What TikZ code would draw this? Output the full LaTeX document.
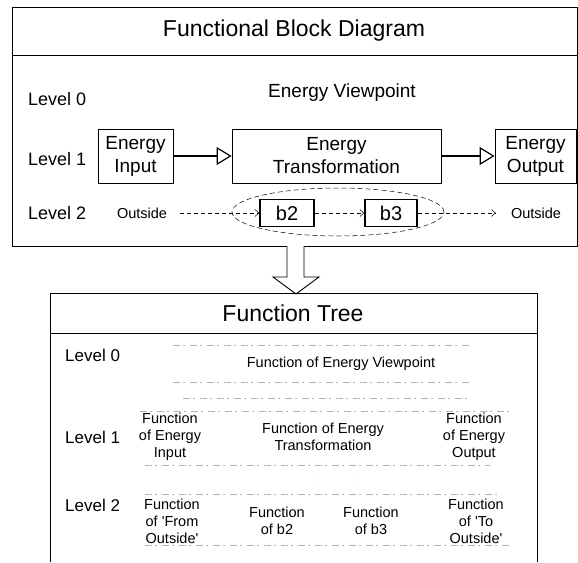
\documentclass[tikz,border=0pt]{standalone}
\usepackage{fontspec}
\setmainfont{Liberation Sans}
\usetikzlibrary{arrows.meta,shapes.geometric}
\begin{document}
\begin{tikzpicture}[x=1pt,y=-1pt,
  frame/.style={draw, line width=1pt},
  container/.style={draw, line width=1pt, inner sep=0pt, anchor=north west},
  ttl/.style={font=\fontsize{23}{25}\selectfont},
  lvl/.style={anchor=west, inner sep=0pt, font=\fontsize{18}{20}\selectfont},
  lvlb/.style={anchor=west, inner sep=0pt, font=\fontsize{17}{19}\selectfont},
  blk/.style={draw, line width=0.9pt, align=center, inner sep=0pt, font=\fontsize{19}{23}\selectfont},
  flow/.style={line width=1.4pt, -{Triangle[open,length=15pt,width=18pt,line width=1.2pt]}},
  sub/.style={draw, line width=1.4pt, inner sep=0pt, font=\fontsize{20}{22}\selectfont},
  small/.style={inner sep=1pt, font=\fontsize{14.5}{16}\selectfont},
  dflow/.style={dash pattern=on 4pt off 3pt, line width=0.5pt, -{Straight Barb[length=4pt,width=7pt]}},
  ftext/.style={align=center, font=\fontsize{14.5}{17}\selectfont, inner sep=0pt},
  faint/.style={gray!60, line width=0.6pt, dash pattern=on 7pt off 3pt on 2pt off 5pt},
]
\useasboundingbox (0,0) rectangle (578,562);

% ---------- Functional Block Diagram ----------
\node[container, minimum width=565pt, minimum height=239pt] (fbd) at (12,7) {};
\draw[frame] (12,55) -- (577,55);
\node[ttl] (t1) at (294,31) {Functional Block Diagram};

\node[lvl] (l0) at (28,99) {Level 0};
\node[lvl] (l1) at (28,159) {Level 1};
\node[lvl] (l2) at (28,213) {Level 2};

\node[font=\fontsize{19}{21}\selectfont] (ev) at (342,93) {Energy Viewpoint};

\node[blk, minimum width=75pt, minimum height=54pt] (ein) at (135.5,156) {Energy\\Input};
\node[blk, minimum width=209pt, minimum height=54pt] (etr) at (336.5,156) {Energy\\Transformation};
\node[blk, minimum width=81pt, minimum height=54pt] (eout) at (535.5,156) {Energy\\Output};
\draw[flow] (ein) -- (etr);
\draw[flow] (etr) -- (eout);

\node[small] (outl) at (142,213) {Outside};
\node[sub, minimum width=54pt, minimum height=27pt] (b2) at (287,213) {b2};
\node[sub, minimum width=52pt, minimum height=27pt] (b3) at (391,213) {b3};
\node[small] (outr) at (536,213) {Outside};
\node[ellipse, draw, dash pattern=on 5pt off 3pt, line width=0.5pt, minimum width=212pt, minimum height=48pt] (grp) at (338,212) {};
\draw[dflow, shorten <=12pt] (outl) -- (b2);
\draw[dflow] (b2) -- (b3);
\draw[dflow, shorten >=14pt] (b3) -- (outr);

% ---------- big hollow arrow ----------
\draw[line width=0.9pt, fill=white] (287,246) -- (287,277) -- (273,277) -- (296,294) -- (319,277) -- (304,277) -- (304,246);

% ---------- Function Tree ----------
\draw[frame] (50,562) -- (50,293) -- (537,293) -- (537,562);
\draw[frame] (50,333) -- (537,333);
\node[ttl] (t2) at (293,313) {Function Tree};

\node[lvlb] (m0) at (65,355) {Level 0};
\node[lvlb] (m1) at (65,437) {Level 1};
\node[lvlb] (m2) at (65,505) {Level 2};

\draw[faint] (173,345) -- (470,345);
\draw[faint] (173,382) -- (470,382);
\draw[faint] (183,398) -- (470,398);
\draw[faint] (140,411) -- (510,411);
\draw[faint] (145,465) -- (490,465);
\fill[gray!60] (317,480) circle (0.7pt) (357,480) circle (0.7pt);
\draw[faint] (145,494) -- (500,494);
\draw[faint] (145,545) -- (510,545);

\node[ftext] (f0) at (341,364) {Function of Energy Viewpoint};
\node[ftext] (f1a) at (170,437) {Function\\of Energy\\Input};
\node[ftext] (f1b) at (323,437) {Function of Energy\\Transformation};
\node[ftext] (f1c) at (474,437) {Function\\of Energy\\Output};
\node[ftext] (f2a) at (172,521) {Function\\of \textquotesingle From\\Outside\textquotesingle};
\node[ftext] (f2b) at (277,521) {Function\\of b2};
\node[ftext] (f2c) at (371,521) {Function\\of b3};
\node[ftext] (f2d) at (476,521) {Function\\of \textquotesingle To\\Outside\textquotesingle};
\end{tikzpicture}
\end{document}
